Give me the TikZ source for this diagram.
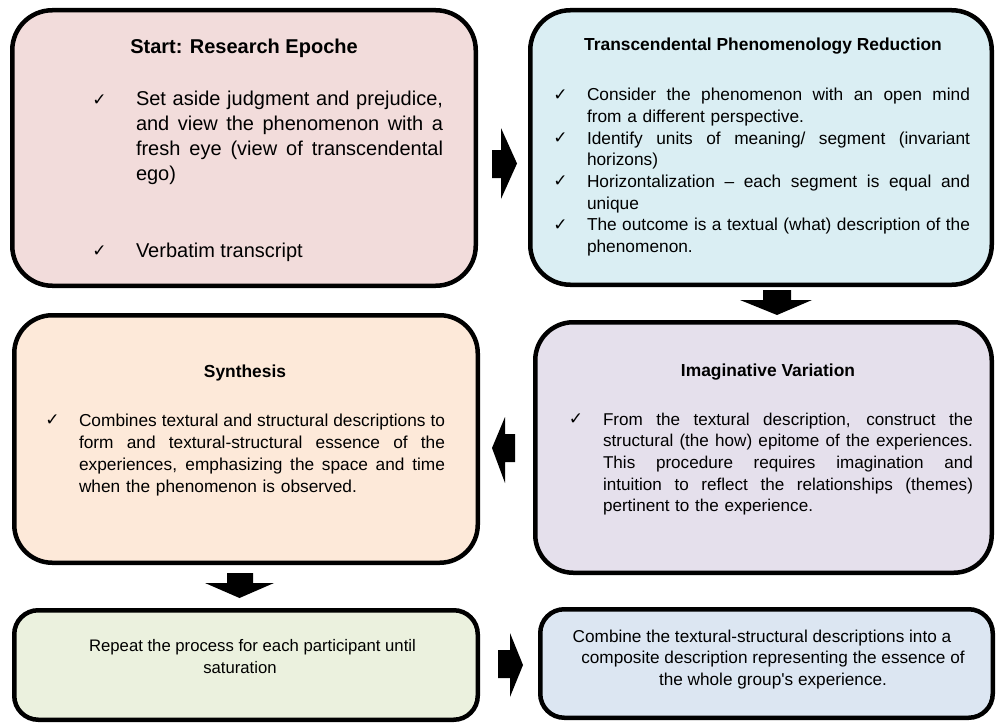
\documentclass[tikz,border=0pt]{standalone}
\usepackage{fontspec}
\setmainfont{Liberation Sans}[Ligatures=TeXOff]
\newfontfamily\chkfont{DejaVu Sans}
\definecolor{boxpink}{HTML}{F2DCDB}
\definecolor{boxblue}{HTML}{DAEEF3}
\definecolor{boxpeach}{HTML}{FDE9D9}
\definecolor{boxlav}{HTML}{E5E0EC}
\definecolor{boxgreen}{HTML}{EBF1DE}
\definecolor{boxgrey}{HTML}{DCE6F2}
\newcommand{\jl}[2]{\leavevmode\hbox to #1{\spaceskip=\fontdimen2\font plus 1fil\relax #2}}
\begin{document}
\begin{tikzpicture}[x=1pt,y=-1pt,
  panel/.style={draw=black, line width=4.5pt, inner sep=0pt, outer sep=0pt},
  txt/.style={inner sep=0pt, outer sep=0pt, anchor=base west},
  ctxt/.style={inner sep=0pt, outer sep=0pt, anchor=base},
  ttl/.style={inner sep=0pt, anchor=base, font=\bfseries\fontsize{17.4}{21}\selectfont},
  chk/.style={inner sep=0pt, anchor=base, font=\chkfont\fontsize{17}{17}\selectfont},
  blockarrow/.style={fill=black, draw=none}]
\useasboundingbox (0,0) rectangle (996,725);

% panels
\node[panel, fill=boxpink, rounded corners=40pt, minimum width=463.5pt, minimum height=275.5pt] (epoche) at (244,148) {};
\node[panel, fill=boxblue, rounded corners=40pt, minimum width=461.5pt, minimum height=274.5pt] (reduct) at (761,147.5) {};
\node[panel, fill=boxpeach, rounded corners=38pt, minimum width=463.5pt, minimum height=247.5pt] (synth) at (246,439) {};
\node[panel, fill=boxlav, rounded corners=38pt, minimum width=456.5pt, minimum height=250.5pt] (imag) at (763.5,447.5) {};
\node[panel, fill=boxgreen, rounded corners=24pt, minimum width=463.5pt, minimum height=109.5pt] (repeat) at (246,665) {};
\node[panel, fill=boxgrey, rounded corners=24pt, minimum width=452.5pt, minimum height=108.5pt] (combine) at (766.5,663.5) {};

% box 1
\node[ctxt, font=\bfseries\fontsize{20}{24}\selectfont] (t1) at (244,54) {Start: Research Epoche};
\node[chk] (c11) at (99.5,105) {✓};
\node[txt, text width=307pt, font=\fontsize{20}{24.7}\selectfont] (b11) at (136,106)
 {\noindent\jl{307pt}{Set aside judgment and prejudice,}\\
  \jl{307pt}{and view the phenomenon with a}\\
  \jl{307pt}{fresh eye (view of transcendental}\\
  ego)};
\node[chk] (c12) at (99.5,256) {✓};
\node[txt, font=\fontsize{20}{24.7}\selectfont] (b12) at (136,257) {Verbatim transcript};

% box 2
\node[ttl] (t2) at (763,50.7) {Transcendental Phenomenology Reduction};
\node[chk] (c21) at (560.5,100) {✓};
\node[chk] (c22) at (560.5,143.4) {✓};
\node[chk] (c23) at (560.5,186.8) {✓};
\node[chk] (c24) at (560.5,230.2) {✓};
\node[txt, text width=383pt, font=\fontsize{17.3}{21.7}\selectfont] (b2) at (587,100.7)
 {\noindent\jl{383pt}{Consider the phenomenon with an open mind}\\
  from a different perspective.\\
  \jl{383pt}{Identify units of meaning/ segment (invariant}\\
  horizons)\\
  \jl{383pt}{Horizontalization – each segment is equal and}\\
  unique\\
  \jl{383pt}{The outcome is a textual (what) description of the}\\
  phenomenon.};

% box 3
\node[ttl] (t3) at (245,377) {Synthesis};
\node[chk] (c3) at (52.5,425) {✓};
\node[txt, text width=366pt, font=\fontsize{17.3}{22}\selectfont] (b3) at (79,426)
 {\noindent\jl{366pt}{Combines textural and structural descriptions to}\\
  \jl{366pt}{form and textural-structural essence of the}\\
  \jl{366pt}{experiences, emphasizing the space and time}\\
  when the phenomenon is observed.};

% box 4
\node[ttl] (t4) at (768,376) {Imaginative Variation};
\node[chk] (c4) at (576,424) {✓};
\node[txt, text width=370pt, font=\fontsize{17.1}{21.7}\selectfont] (b4) at (603,425)
 {\noindent\jl{370pt}{From the textural description, construct the}\\
  \jl{370pt}{structural (the how) epitome of the experiences.}\\
  \jl{370pt}{This procedure requires imagination and}\\
  \jl{370pt}{intuition to reflect the relationships (themes)}\\
  pertinent to the experience.};

% box 5
\node[ctxt, font=\fontsize{16.7}{21}\selectfont] (r1) at (252.5,651.7) {Repeat the process for each participant until};
\node[ctxt, font=\fontsize{16.7}{21}\selectfont] (r2) at (240,673) {saturation};

% box 6
\node[ctxt, font=\fontsize{17.2}{21.7}\selectfont] (m1) at (762,642) {Combine the textural-structural descriptions into a};
\node[ctxt, font=\fontsize{17.2}{21.7}\selectfont] (m2) at (773,663.5) {composite description representing the essence of};
\node[ctxt, font=\fontsize{17.2}{21.7}\selectfont] (m3) at (773,685) {the whole group's experience.};

% block arrows
\fill[blockarrow] (492,150) -- (501,150) -- (501,128) -- (517,163.5) -- (501,199) -- (501,178) -- (492,178) -- cycle;
\fill[blockarrow] (763,290) -- (791,290) -- (791,300) -- (812,300) -- (777,315) -- (740,300) -- (763,300) -- cycle;
\fill[blockarrow] (515,434) -- (505,434) -- (505,417) -- (492,448) -- (505,483) -- (505,462) -- (515,462) -- cycle;
\fill[blockarrow] (227,573) -- (253,573) -- (253,583) -- (274,583) -- (239.5,598) -- (205,583) -- (227,583) -- cycle;
\fill[blockarrow] (498,650) -- (510,650) -- (510,633) -- (523,665) -- (510,697) -- (510,678) -- (498,678) -- cycle;
\end{tikzpicture}
\end{document}
